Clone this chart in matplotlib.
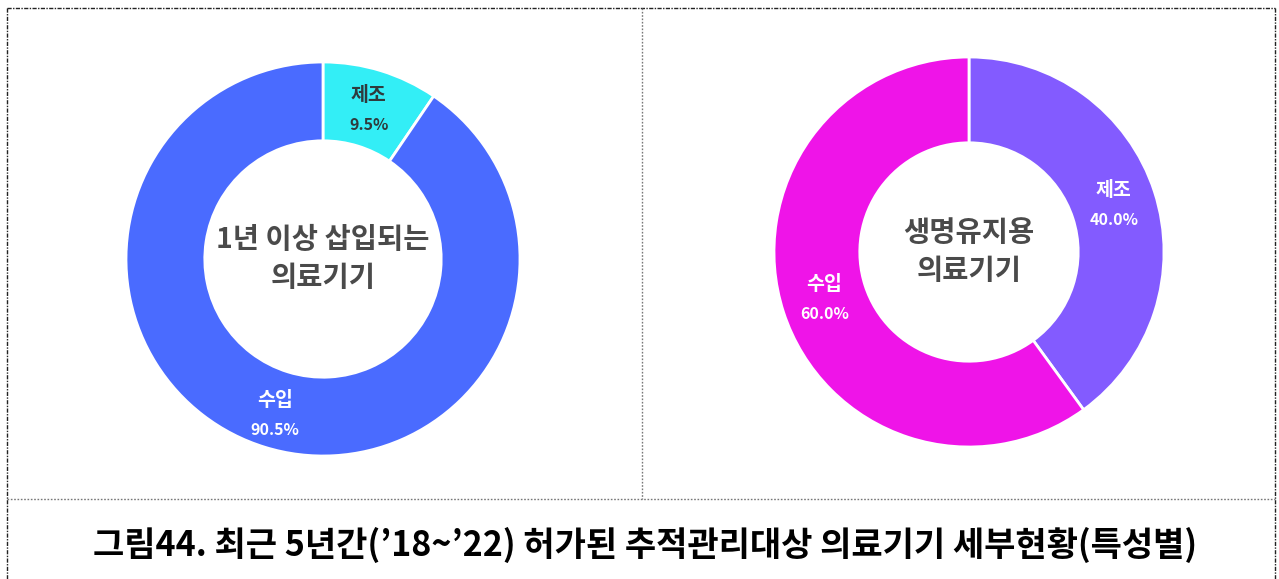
import matplotlib.pyplot as plt
import numpy as np
from matplotlib.lines import Line2D

plt.rcParams['font.family'] = ['Noto Sans CJK KR', 'DejaVu Sans']

# 1년 이상 삽입되는 의료기기
left_labels = ['제조', '수입']
left_values = [9.5, 90.5]
left_colors = ['#33eef6', '#4a6bff']
left_text_colors = ['#2f3b3d', 'white']
left_center = '1년 이상 삽입되는\n의료기기'

# 생명유지용 의료기기
right_labels = ['제조', '수입']
right_values = [40.0, 60.0]
right_colors = ['#835bff', '#ef14e8']
right_text_colors = ['white', 'white']
right_center = '생명유지용\n의료기기'

title = '그림44. 최근 5년간(’18~’22) 허가된 추적관리대상 의료기기 세부현황(특성별)'

W, H = 1279, 579
fig = plt.figure(figsize=(W / 100, H / 100), dpi=100)

# frame lines in pixel coordinates
bg = fig.add_axes([0, 0, 1, 1])
bg.set_xlim(0, W)
bg.set_ylim(H, 0)
bg.axis('off')
outer = dict(color='#222222', lw=1.0, ls=(0, (3, 1, 1, 1)))
inner = dict(color='#777777', lw=1.0, ls=(0, (1.2, 1.2)))
bg.add_line(Line2D([7, 7], [8, H], **outer))
bg.add_line(Line2D([7, 1275], [8, 8], **outer))
bg.add_line(Line2D([1275, 1275], [8, H], **outer))
bg.add_line(Line2D([7, 1275], [499, 499], **inner))
bg.add_line(Line2D([642, 642], [8, 499], **inner))


def donut(cx, cy, r, hole, values, labels, colors, text_colors, center, lab_r):
    ax = fig.add_axes([(cx - r) / W, 1 - (cy + r) / H, 2 * r / W, 2 * r / H])
    ax.pie(values, colors=colors, startangle=90, counterclock=False, radius=1.0,
           wedgeprops=dict(width=1 - hole, edgecolor='white', linewidth=2))
    ax.set_xlim(-1, 1)
    ax.set_ylim(-1, 1)
    ax.axis('off')
    start = 90.0
    total = sum(values)
    for v, lab, tc, lr in zip(values, labels, text_colors, lab_r):
        mid = np.deg2rad(start - v / total * 360 / 2)
        start -= v / total * 360
        x, y = lr * np.cos(mid), lr * np.sin(mid)
        ax.text(x, y + 0.075, lab, ha='center', va='center', fontsize=14,
                fontweight='bold', color=tc)
        ax.text(x, y - 0.075, f'{v:.1f}%', ha='center', va='center', fontsize=11.5,
                fontweight='bold', color=tc)
    ax.text(0, 0, center, ha='center', va='center', fontsize=20.5, fontweight='bold',
            color='#4a4a4a', linespacing=1.45)


donut(323, 259, 197, 0.60, left_values, left_labels, left_colors, left_text_colors,
      left_center, [0.79, 0.83])
donut(969, 252, 195, 0.56, right_values, right_labels, right_colors, right_text_colors,
      right_center, [0.78, 0.78])

fig.text(645 / W, 1 - 545 / H, title, ha='center', va='center', fontsize=24.5,
         fontweight='bold', color='black')

fig.savefig('out.png', dpi=100)
